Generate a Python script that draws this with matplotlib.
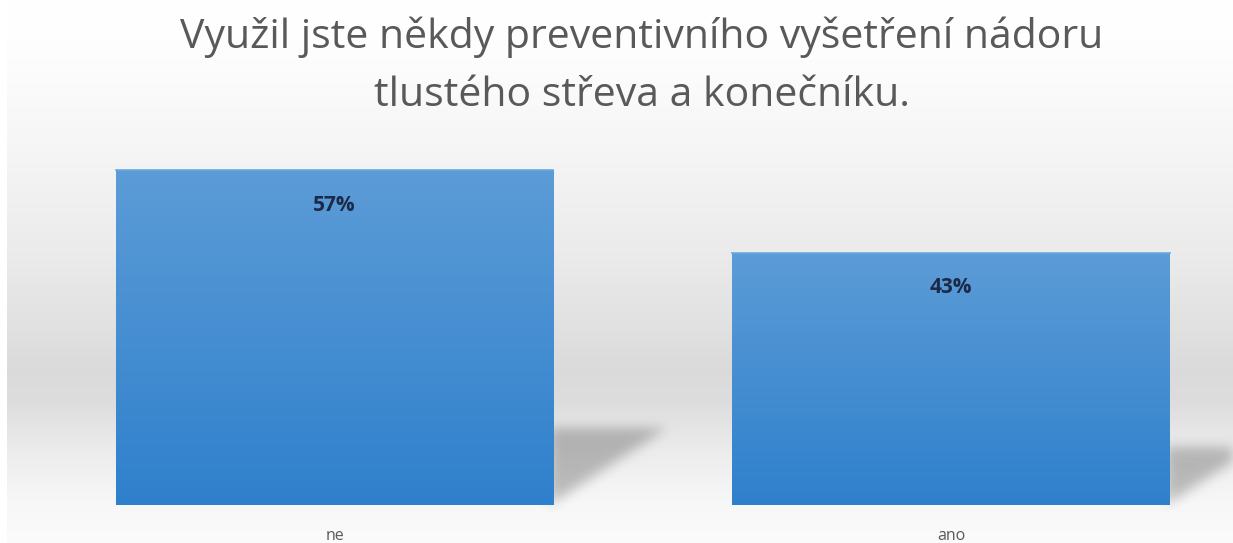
import numpy as np
import matplotlib.pyplot as plt
from matplotlib.path import Path

# ------------------------------
# data
# ------------------------------
categories = ['ne', 'ano']
values = [57, 43]
value_labels = ['57%', '43%']
title_lines = ['Využil jste někdy preventivního vyšetření nádoru',
               'tlustého střeva a konečníku.']

W, H = 1233, 543
fig = plt.figure(figsize=(W / 100, H / 100), dpi=100)
fig.patch.set_facecolor('white')

# ------------------------------
# background: soft grey "floor" band
# ------------------------------
bg = fig.add_axes([0, 0, 1, 1], zorder=0)
bg.set_xlim(0, W)
bg.set_ylim(H, 0)
bg.axis('off')

rows = np.arange(H)
stop_y = [0, 50, 150, 260, 370, 400, 450, 500, 543]
stop_v = [1.0, 0.995, 0.962, 0.918, 0.858, 0.866, 0.925, 0.968, 0.985]
shade = np.interp(rows, stop_y, stop_v)
band = np.repeat(shade[:, None], W, axis=1)
band[:, :7] = 1.0
bg.imshow(np.dstack([band] * 3), extent=(0, W, H, 0), aspect='auto',
          interpolation='bilinear', zorder=0)

# ------------------------------
# bar axes
# ------------------------------
ax = fig.add_axes([0, 0, 1, 1], zorder=1)
ax.patch.set_alpha(0)
ax.axis('off')
x = np.arange(len(categories))
bar_w = 0.709
px_per = 5.87
base_px = H - 505

bars = ax.bar(x, values, width=bar_w, color='#4a90d4', zorder=2)

# vertical gradient inside each bar
top_c = np.array([0x5c, 0x9c, 0xd7]) / 255
bot_c = np.array([0x2f, 0x80, 0xcc]) / 255
t = np.linspace(0, 1, 256)[:, None]
grad = (top_c * (1 - t) + bot_c * t)[:, None, :]
for b in bars:
    x0, w, h = b.get_x(), b.get_width(), b.get_height()
    im = ax.imshow(grad, extent=(x0, x0 + w, 0, h), aspect='auto',
                   origin='upper', zorder=3)
    im.set_clip_path(b)
    ax.plot([x0, x0 + w], [h, h], color='#6aa8e0', lw=1.2, zorder=4)

ax.set_xlim(-0.5426, 1.4574)
ax.set_ylim(-base_px / px_per, (H - base_px) / px_per)

# ------------------------------
# perspective shadows behind the bars
# ------------------------------
yy, xx = np.mgrid[0:H, 0:W]
pts = np.column_stack([xx.ravel() + 0.5, yy.ravel() + 0.5])
mask = np.zeros(H * W)
for b in bars:
    rx, by = ax.transData.transform((b.get_x() + b.get_width(), 0))
    _, ty = ax.transData.transform((0, b.get_height()))
    by = H - by
    h = by - (H - ty)
    tri = Path([(rx - 4, by), (rx + 0.34 * h, by - 0.23 * h),
                (rx - 4, by - 0.23 * h), (rx - 4, by)])
    mask = np.maximum(mask, tri.contains_points(pts).astype(float))
mask = mask.reshape(H, W)

k = np.exp(-0.5 * (np.arange(-18, 19) / 6.0) ** 2)
k /= k.sum()
mask = np.apply_along_axis(lambda r: np.convolve(r, k, mode='same'), 1, mask)
mask = np.apply_along_axis(lambda c: np.convolve(c, k, mode='same'), 0, mask)

shadow = np.zeros((H, W, 4))
shadow[..., 3] = mask * 0.24
bg.imshow(shadow, extent=(0, W, H, 0), aspect='auto', zorder=1)

# ------------------------------
# texts
# ------------------------------
for i, (b, lab) in enumerate(zip(bars, value_labels)):
    ax.annotate(lab, xy=(x[i], b.get_height()), xytext=(0, -25),
                textcoords='offset points', ha='center', va='center',
                fontsize=15, fontweight='bold', color='#1c2a48',
                family='Open Sans', zorder=5)
    ax.annotate(categories[i], xy=(x[i], 0), xytext=(0, -22),
                textcoords='offset points', ha='center', va='center',
                fontsize=11.5, color='#595959', family='Open Sans')

title_x = 642 / W
fig.text(title_x, 1 - 48 / H, title_lines[0], ha='center', va='baseline',
         fontsize=29.5, color='#595959', family='Open Sans')
fig.text(title_x, 1 - 106 / H, title_lines[1], ha='center', va='baseline',
         fontsize=29.5, color='#595959', family='Open Sans')

fig.savefig('out.png', dpi=100)
